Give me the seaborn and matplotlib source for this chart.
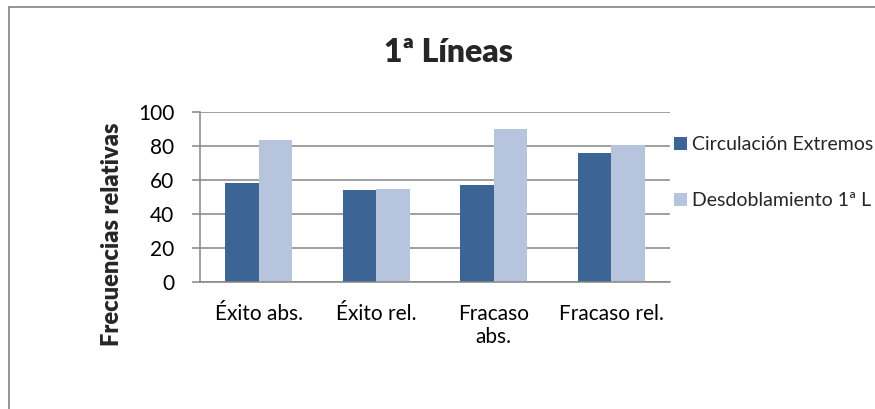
"""
Grafico de barras: frecuencias relativas en 1ª Lineas.
Guarda out.png.
"""

import pandas as pd
import matplotlib.pyplot as plt
import matplotlib.lines as mlines
import seaborn as sns

categorias = ["Éxito abs.", "Éxito rel.", "Fracaso\nabs.", "Fracaso rel."]
series = ["Circulación Extremos", "Desdoblamiento 1ª L"]
circulacion = [58, 54, 57, 75.7]
desdoblamiento = [83.3, 54.5, 89.8, 80.5]
yticks = [0, 20, 40, 60, 80, 100]

COL_OSCURO = "#3C6494"
COL_CLARO = "#B7C4DE"
GRIS = "#868686"

sns.set_style("white")
plt.rcParams["font.family"] = ["Lato", "DejaVu Sans"]

df = pd.DataFrame({
    "categoria": categorias * 2,
    "valor": circulacion + desdoblamiento,
    "serie": [series[0]] * 4 + [series[1]] * 4,
})

W, H = 875, 409
fig = plt.figure(figsize=(W / 100, H / 100), dpi=100)
ax = fig.add_axes([200 / W, 1 - 282 / H, 470 / W, 170 / H])

sns.barplot(
    data=df, x="categoria", y="valor", hue="serie", order=categorias,
    palette=[COL_OSCURO, COL_CLARO], width=0.57, saturation=1,
    errorbar=None, linewidth=0, ax=ax,
)

ax.set_ylim(0, 100)
ax.set_yticks(yticks)
ax.set_xlim(-0.5, 3.5)
ax.set_xlabel("")
ax.set_ylabel("")
ax.grid(axis="y", color=GRIS, linewidth=1.1)
ax.set_axisbelow(True)
for lado in ["top", "right"]:
    ax.spines[lado].set_visible(False)
for lado in ["left", "bottom"]:
    ax.spines[lado].set_color(GRIS)
    ax.spines[lado].set_linewidth(1.1)

ax.tick_params(axis="y", length=6, width=1.1, color=GRIS, pad=12.5,
               labelsize=15, labelcolor="black", left=True)
ax.tick_params(axis="x", length=0, pad=16, labelsize=15, labelcolor="black")

handles, labels = ax.get_legend_handles_labels()
ax.legend(
    handles, labels, loc="center left",
    bbox_to_anchor=(674 / W, 1 - 172.5 / H), bbox_transform=fig.transFigure,
    frameon=False, fontsize=14, borderpad=0, borderaxespad=0,
    handlelength=0.65, handleheight=0.65, handletextpad=0.25, labelspacing=2.0,
)

fig.text(448 / W, 1 - 61.7 / H, "1ª Líneas", ha="center", va="baseline",
         fontsize=23, fontweight="heavy")
fig.text(112 / W, 1 - 234 / H, "Frecuencias relativas", ha="center", va="center",
         rotation=90, fontsize=17, fontweight="heavy")

# borde del area del grafico (solo se ve arriba y a la izquierda)
x0, y0 = 8.5 / W, 1 - 6.5 / H
for xs, ys in [([x0, 1.0], [y0, y0]), ([x0, x0], [0.0, y0])]:
    fig.add_artist(mlines.Line2D(xs, ys, color="#8C8C8C", linewidth=1.3,
                                 transform=fig.transFigure))

fig.savefig("out.png", dpi=100)
